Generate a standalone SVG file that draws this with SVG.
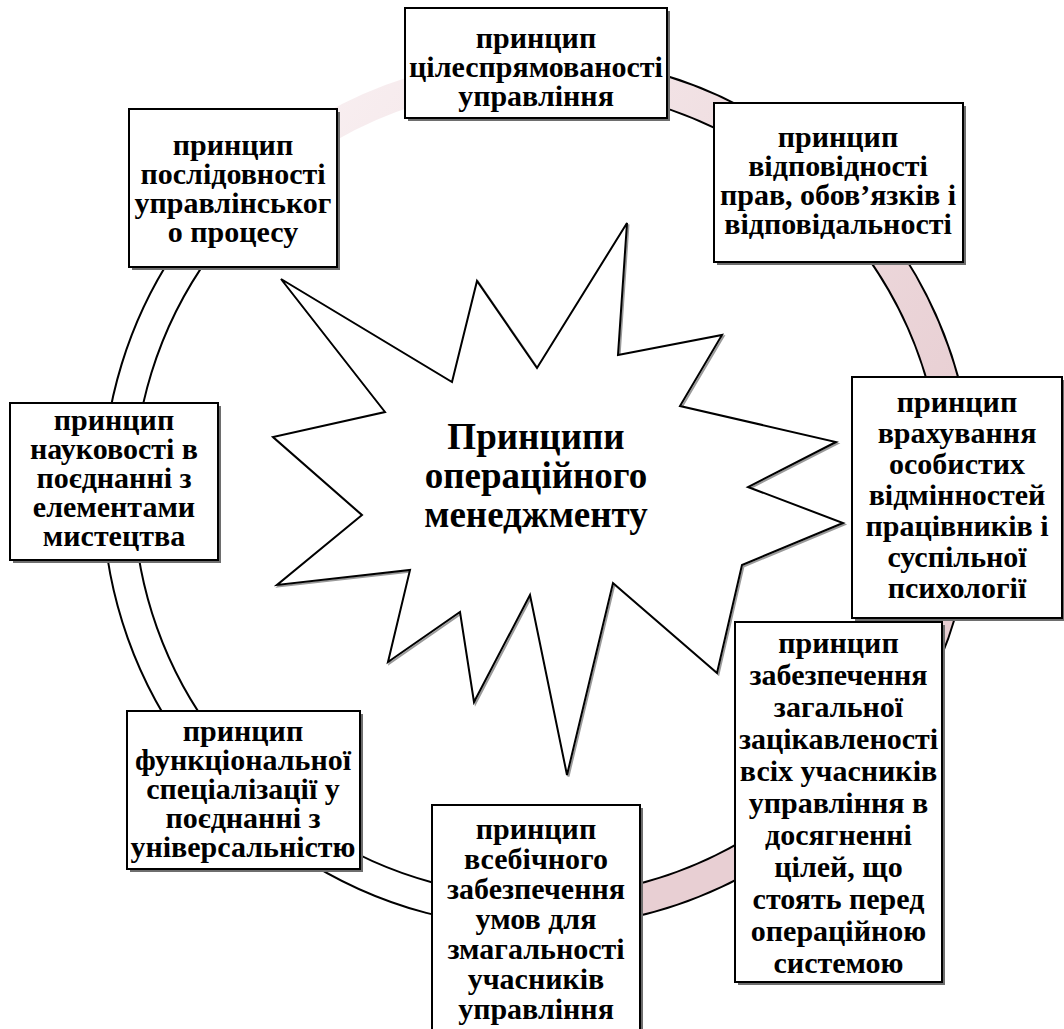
<svg xmlns="http://www.w3.org/2000/svg" width="1064" height="1029" viewBox="0 0 1064 1029">
  <style>
    .box { fill: #ffffff; stroke: #000000; stroke-width: 2; }
    .shadow { fill: #6e6e6e; }
    .lbl { font-family: "Liberation Serif", "Times New Roman", serif; font-weight: bold; font-size: 30px; fill: #000000; text-anchor: middle; }
    .title { font-family: "Liberation Serif", "Times New Roman", serif; font-weight: bold; font-size: 37px; fill: #000000; text-anchor: middle; }
    .edge { fill: none; stroke: #000000; stroke-width: 33; }
  </style>
  <defs>
    <linearGradient id="bandPink" gradientUnits="userSpaceOnUse" x1="330" y1="100" x2="900" y2="500">
      <stop offset="0" stop-color="#f8eef0"/>
      <stop offset="1" stop-color="#e8cfd3"/>
    </linearGradient>
  </defs>
  <rect width="1064" height="1029" fill="#ffffff"/>

  <!-- circular band linking the principles: shaded arc on the right, plain arc on the left -->
  <g id="connectors">
    <path class="edge" d="M 420 88.9 A 420 420 0 1 1 560 911.4"/>
    <path class="edge" d="M 560 911.4 A 420 420 0 0 1 290 153"/>
    <path d="M 290 153 A 420 420 0 1 1 560 911.4" fill="none" stroke="url(#bandPink)" stroke-width="29"/>
    <path d="M 560 911.4 A 420 420 0 0 1 290 153" fill="none" stroke="#ffffff" stroke-width="29"/>
  </g>

  <!-- central burst -->
  <g id="center">
    <polygon transform="translate(1.5,1.5)" fill="none" stroke="#9a9a9a" stroke-width="2"
      points="281,279 452,382 477,281 537,368 627,223 618,355 722,335 680,406 836,442 748,487 843,523 742,565 717,673 613,583 567,775 530,595 474,702 460,612 388,662 410,570 277,585 362,515 273,437 385,412"/>
    <polygon fill="#ffffff" stroke="#000000" stroke-width="2"
      points="281,279 452,382 477,281 537,368 627,223 618,355 722,335 680,406 836,442 748,487 843,523 742,565 717,673 613,583 567,775 530,595 474,702 460,612 388,662 410,570 277,585 362,515 273,437 385,412"/>
    <text class="title" x="536" y="449">Принципи<tspan x="536" dy="39">операційного</tspan><tspan x="536" dy="39">менеджменту</tspan></text>
  </g>

  <g id="box-purpose">
    <rect class="shadow" x="408" y="11" width="262" height="110"/>
    <rect class="box" x="405" y="8" width="262" height="110"/>
    <text class="lbl" x="536" y="48">принцип<tspan x="536" dy="29">цілеспрямованості</tspan><tspan x="536" dy="29">управління</tspan></text>
  </g>

  <g id="box-rights">
    <rect class="shadow" x="717" y="106" width="249" height="159"/>
    <rect class="box" x="714" y="103" width="249" height="159"/>
    <text class="lbl" x="838" y="147">принцип<tspan x="838" dy="29">відповідності</tspan><tspan x="838" dy="29">прав, обов’язків і</tspan><tspan x="838" dy="29">відповідальності</tspan></text>
  </g>

  <g id="box-sequence">
    <rect class="shadow" x="132" y="112" width="208" height="158"/>
    <rect class="box" x="129" y="109" width="208" height="158"/>
    <text class="lbl" x="233" y="155">принцип<tspan x="233" dy="29">послідовності</tspan><tspan x="233" dy="29">управлінськог</tspan><tspan x="233" dy="29">о процесу</tspan></text>
  </g>

  <g id="box-science">
    <rect class="shadow" x="13" y="406" width="208" height="157"/>
    <rect class="box" x="10" y="403" width="208" height="157"/>
    <text class="lbl" x="114" y="430">принцип<tspan x="114" dy="29">науковості в</tspan><tspan x="114" dy="29">поєднанні з</tspan><tspan x="114" dy="29">елементами</tspan><tspan x="114" dy="29">мистецтва</tspan></text>
  </g>

  <g id="box-individual">
    <rect class="shadow" x="855" y="380" width="210" height="241"/>
    <rect class="box" x="852" y="377" width="210" height="241"/>
    <text class="lbl" x="957" y="412">принцип<tspan x="957" dy="31">врахування</tspan><tspan x="957" dy="31">особистих</tspan><tspan x="957" dy="31">відмінностей</tspan><tspan x="957" dy="31">працівників і</tspan><tspan x="957" dy="31">суспільної</tspan><tspan x="957" dy="31">психології</tspan></text>
  </g>

  <g id="box-interest">
    <rect class="shadow" x="738" y="625" width="207" height="360"/>
    <rect class="box" x="735" y="622" width="207" height="360"/>
    <text class="lbl" x="838.5" y="653">принцип<tspan x="838.5" dy="32">забезпечення</tspan><tspan x="838.5" dy="32">загальної</tspan><tspan x="838.5" dy="32">зацікавленості</tspan><tspan x="838.5" dy="32">всіх учасників</tspan><tspan x="838.5" dy="32">управління в</tspan><tspan x="838.5" dy="32">досягненні</tspan><tspan x="838.5" dy="32">цілей, що</tspan><tspan x="838.5" dy="32">стоять перед</tspan><tspan x="838.5" dy="32">операційною</tspan><tspan x="838.5" dy="32">системою</tspan></text>
  </g>

  <g id="box-competition">
    <rect class="shadow" x="435" y="808" width="208" height="240"/>
    <rect class="box" x="432" y="805" width="208" height="240"/>
    <text class="lbl" x="536" y="839">принцип<tspan x="536" dy="30">всебічного</tspan><tspan x="536" dy="30">забезпечення</tspan><tspan x="536" dy="30">умов для</tspan><tspan x="536" dy="30">змагальності</tspan><tspan x="536" dy="30">учасників</tspan><tspan x="536" dy="30">управління</tspan></text>
  </g>

  <g id="box-specialization">
    <rect class="shadow" x="130" y="714" width="233" height="158"/>
    <rect class="box" x="127" y="711" width="233" height="158"/>
    <text class="lbl" x="243" y="741">принцип<tspan x="243" dy="29">функціональної</tspan><tspan x="243" dy="29">спеціалізації у</tspan><tspan x="243" dy="29">поєднанні з</tspan><tspan x="243" dy="29">універсальністю</tspan></text>
  </g>
</svg>
